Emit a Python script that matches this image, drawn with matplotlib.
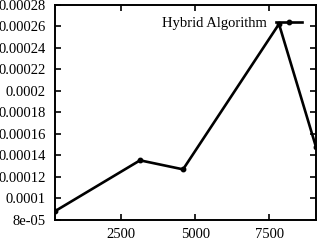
import matplotlib
matplotlib.use("Agg")
import matplotlib.pyplot as plt

# values
sizes = [284, 3141, 4592, 7827, 9075]
times = [8.81e-05, 1.353e-04, 1.269e-04, 2.623e-04, 1.477e-04]
label = "Hybrid Algorithm"

x_ticks = [2500, 5000, 7500]
x_labels = ["2500", "5000", "7500"]
y_ticks = [8e-05, 1e-04, 1.2e-04, 1.4e-04, 1.6e-04, 1.8e-04,
           2e-04, 2.2e-04, 2.4e-04, 2.6e-04, 2.8e-04]
y_labels = ["8e-05", "0.0001", "0.00012", "0.00014", "0.00016", "0.00018",
            "0.0002", "0.00022", "0.00024", "0.00026", "0.00028"]

plt.rcParams["font.family"] = ["Liberation Serif", "DejaVu Serif"]
plt.rcParams["font.size"] = 10.5

fig = plt.figure(figsize=(3.18, 2.40), dpi=100)
ax = fig.add_axes([55.3 / 318, 1 - 219.7 / 240, (316 - 55.3) / 318, (219.7 - 5) / 240])

ax.plot(sizes, times, color="black", lw=1.9, marker="o", ms=3.2, label=label)

ax.set_xlim(sizes[0], sizes[-1])
ax.set_ylim(y_ticks[0], y_ticks[-1])
ax.set_xticks(x_ticks)
ax.set_xticklabels(x_labels)
ax.set_yticks(y_ticks)
ax.set_yticklabels(y_labels)

ax.tick_params(direction="in", length=4, width=1.2, top=True, right=True)
ax.tick_params(axis="y", pad=6.8)
ax.tick_params(axis="x", pad=6)
for s in ax.spines.values():
    s.set_linewidth(1.4)

ax.legend(loc="upper right", bbox_to_anchor=(0.97, 0.97), frameon=False,
          markerfirst=False, handlelength=1.8, handletextpad=0.6,
          borderaxespad=0.2, borderpad=0.2)

fig.savefig("out.png", dpi=100)
